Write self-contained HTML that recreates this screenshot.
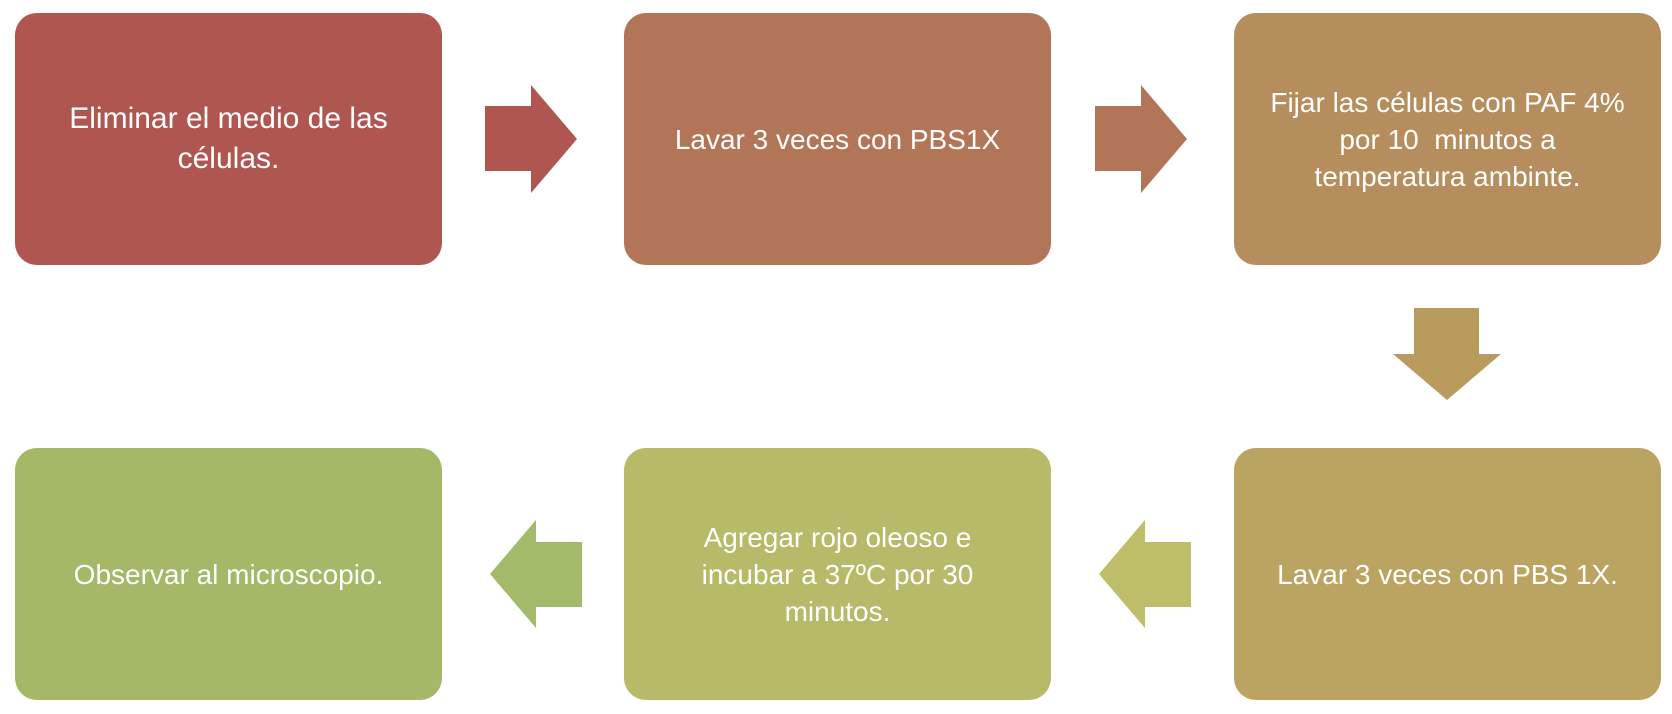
<!DOCTYPE html>
<html><head><style>
body{margin:0;width:1672px;height:714px;background:#fff;position:relative;overflow:hidden;font-family:"Liberation Sans",sans-serif}
.b{position:absolute;width:427px;height:252px;border-radius:22px;color:#fff;display:flex;align-items:center;justify-content:center;text-align:center;font-size:28px;line-height:37px;box-sizing:border-box;padding:0 20px}
svg{position:absolute;left:0;top:0}
</style></head><body>
<div class="b" style="left:15px;top:13px;background:#B05650;font-size:30px;line-height:40px">Eliminar el medio de las<br>células.</div>
<div class="b" style="left:624px;top:13px;background:#B37557">Lavar 3 veces con PBS1X</div>
<div class="b" style="left:1234px;top:13px;background:#B68D5D">Fijar las células con PAF 4%<br>por 10&nbsp; minutos a<br>temperatura ambinte.</div>
<div class="b" style="left:1234px;top:448px;background:#BBA462">Lavar 3 veces con PBS 1X.</div>
<div class="b" style="left:624px;top:448px;background:#B7BA68">Agregar rojo oleoso e<br>incubar a 37ºC por 30<br>minutos.</div>
<div class="b" style="left:15px;top:448px;background:#A5B868">Observar al microscopio.</div>
<svg width="1672" height="714">
<polygon fill="#B05650" points="485,106 531,106 531,85 577,139 531,193 531,171 485,171"/>
<polygon fill="#B37557" points="1095,106 1141,106 1141,85 1187,139 1141,193 1141,171 1095,171"/>
<polygon fill="#B99B5E" points="1414,308 1479,308 1479,354 1501,354 1447,400 1393,354 1414,354"/>
<polygon fill="#BDBD6A" points="1191,542 1145,542 1145,520 1099,574 1145,628 1145,607 1191,607"/>
<polygon fill="#A3BA6A" points="582,542 536,542 536,520 490,574 536,628 536,607 582,607"/>
</svg>
</body></html>
